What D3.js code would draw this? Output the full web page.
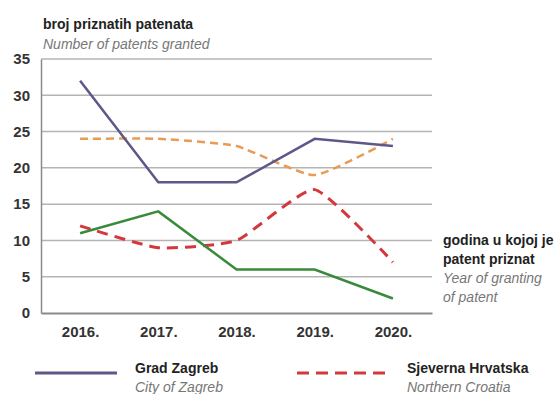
<!DOCTYPE html>
<html>
<head>
<meta charset="utf-8">
<script src="https://cdn.jsdelivr.net/npm/d3@7"></script>
<style>
  html, body { margin: 0; padding: 0; background: #fff; }
  svg { display: block; font-family: "Liberation Sans", Arial, sans-serif; }
</style>
</head>
<body>
<svg id="chart" width="557" height="394"></svg>
<script>
// Years on the x axis
const years = ["2016.", "2017.", "2018.", "2019.", "2020."];
// Number of patents granted per region
const gradZagreb = [32, 18, 18, 24, 23];
const sjevernaHrvatska = [12, 9, 10, 17, 7];
const greenSeries = [11, 14, 6, 6, 2];
const orangeSeries = [24, 24, 23, 19, 24];
const yTicks = [0, 5, 10, 15, 20, 25, 30, 35];

const svg = d3.select("#chart");
const plot = { left: 41, right: 432, top: 59, bottom: 313 };

const x = d3.scalePoint().domain(years).range([plot.left, plot.right]).padding(0.5);
const y = d3.scaleLinear().domain([0, 35]).range([plot.bottom, plot.top]);

// Horizontal gridlines
svg.append("g").selectAll("line")
  .data(yTicks.filter(d => d > 0))
  .join("line")
  .attr("x1", plot.left).attr("x2", plot.right)
  .attr("y1", d => y(d)).attr("y2", d => y(d))
  .attr("stroke", "#b4b4b4").attr("stroke-width", 1.5);

// Y axis
const yAxis = svg.append("g")
  .attr("transform", `translate(${plot.left},0)`)
  .call(d3.axisLeft(y).tickValues(yTicks).tickSize(0).tickPadding(11));
yAxis.select(".domain").attr("stroke", "#8a8a8a").attr("stroke-width", 1.5);
yAxis.selectAll("text")
  .attr("font-size", 15).attr("font-weight", "bold").attr("fill", "#333");

// X axis
const xAxis = svg.append("g")
  .attr("transform", `translate(0,${plot.bottom})`)
  .call(d3.axisBottom(x).tickSize(0).tickPadding(13).tickSizeOuter(0));
xAxis.select(".domain").attr("stroke", "#8a8a8a").attr("stroke-width", 2);
xAxis.selectAll("text")
  .attr("font-size", 15).attr("font-weight", "bold").attr("fill", "#333")
  .attr("dy", "0.75em");

const straight = d3.line().x((d, i) => x(years[i])).y(d => y(d));
const smooth = d3.line().x((d, i) => x(years[i])).y(d => y(d)).curve(d3.curveCardinal.tension(0.5));

const series = [
  { values: orangeSeries, gen: smooth, color: "#e99a55", width: 2.5, dash: "8,5" },
  { values: sjevernaHrvatska, gen: smooth, color: "#d3393c", width: 3, dash: "11,7" },
  { values: greenSeries, gen: straight, color: "#3a8a3c", width: 2.5, dash: null },
  { values: gradZagreb, gen: straight, color: "#5c5888", width: 2.5, dash: null }
];

svg.append("g").selectAll("path")
  .data(series)
  .join("path")
  .attr("d", d => d.gen(d.values))
  .attr("fill", "none")
  .attr("stroke", d => d.color)
  .attr("stroke-width", d => d.width)
  .attr("stroke-dasharray", d => d.dash);

// Axis titles
const title = svg.append("g").attr("font-size", 14);
title.append("text").attr("x", 43).attr("y", 29)
  .attr("font-weight", "bold").attr("fill", "#222").text("broj priznatih patenata");
title.append("text").attr("x", 43).attr("y", 49)
  .attr("font-style", "italic").attr("fill", "#777").text("Number of patents granted");

const xt = svg.append("g").attr("font-size", 14);
[["godina u kojoj je", 245, true], ["patent priznat", 264, true],
 ["Year of granting", 283, false], ["of patent", 302, false]].forEach(([t, yy, b]) => {
  xt.append("text").attr("x", 443).attr("y", yy)
    .attr("font-weight", b ? "bold" : "normal")
    .attr("font-style", b ? "normal" : "italic")
    .attr("fill", b ? "#222" : "#777").text(t);
});

// Legend
const legend = [
  { name: "Grad Zagreb", sub: "City of Zagreb", color: "#5c5888", dash: null, x1: 35, x2: 117, tx: 135 },
  { name: "Sjeverna Hrvatska", sub: "Northern Croatia", color: "#d3393c", dash: "12,7", x1: 297, x2: 387, tx: 407 }
];
const lg = svg.append("g");
legend.forEach(l => {
  lg.append("line").attr("x1", l.x1).attr("x2", l.x2).attr("y1", 373).attr("y2", 373)
    .attr("stroke", l.color).attr("stroke-width", 3).attr("stroke-dasharray", l.dash);
  lg.append("text").attr("x", l.tx).attr("y", 373).attr("font-size", 14)
    .attr("font-weight", "bold").attr("fill", "#222").text(l.name);
  lg.append("text").attr("x", l.tx).attr("y", 392).attr("font-size", 14)
    .attr("font-style", "italic").attr("fill", "#777").text(l.sub);
});
</script>
</body>
</html>
